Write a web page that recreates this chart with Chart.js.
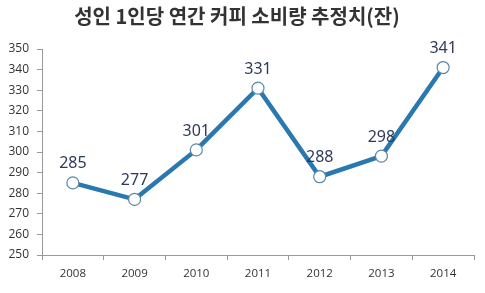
<!DOCTYPE html>
<html>
<head>
<meta charset="utf-8">
<script src="https://cdn.jsdelivr.net/npm/chart.js@4"></script>
<style>
  html, body { margin: 0; padding: 0; background: #fff; }
  #wrap { width: 485px; height: 293px; }
</style>
</head>
<body>
<div id="wrap"><canvas id="coffeeChart" width="485" height="293"></canvas></div>
<script>
// 성인 1인당 연간 커피 소비량 추정치 (잔)
const years = ["2008", "2009", "2010", "2011", "2012", "2013", "2014"];
const cups = [285, 277, 301, 331, 288, 298, 341];
const yTicks = [250, 260, 270, 280, 290, 300, 310, 320, 330, 340, 350];

// values above each point
const valueLabels = {
    id: "valueLabels",
    afterDatasetsDraw(chart) {
        const ctx = chart.ctx;
        const meta = chart.getDatasetMeta(0);
        ctx.save();
        ctx.font = "16px 'Noto Sans', 'DejaVu Sans', sans-serif";
        ctx.fillStyle = "#2e3a59";
        ctx.textAlign = "center";
        ctx.textBaseline = "bottom";
        meta.data.forEach((pt, i) => {
            ctx.fillText(String(cups[i]), pt.x, pt.y - 11);
        });
        ctx.restore();
    }
};

const ctx = document.getElementById("coffeeChart").getContext("2d");
new Chart(ctx, {
    type: "line",
    data: {
        labels: years,
        datasets: [
            {
                label: "커피 소비량",
                data: cups,
                borderColor: "#2a78b0",
                borderWidth: 4.5,
                pointRadius: 6,
                pointBackgroundColor: "#ffffff",
                pointBorderColor: "#5a88a8",
                pointBorderWidth: 1.2,
                tension: 0,
                clip: false,
            },
        ],
    },
    options: {
        responsive: false,
        animation: false,
        layout: { padding: { left: 0, right: 11, top: 0, bottom: 0 } },
        plugins: {
            legend: { display: false },
            tooltip: { enabled: false },
            title: {
                display: true,
                text: "성인 1인당 연간 커피 소비량 추정치(잔)",
                color: "#333333",
                font: { family: "'Noto Sans CJK KR', sans-serif", size: 20, weight: "bold" },
                padding: { top: 4, bottom: 21 },
            },
        },
        scales: {
            x: {
                offset: true,
                grid: { offset: true, drawOnChartArea: false, drawTicks: true, tickLength: 5, color: "#999" },
                border: { display: true, color: "#999" },
                ticks: { color: "#333", font: { family: "'Open Sans', sans-serif", size: 11.5 }, padding: 7 },
                afterFit(scale) { scale.height = 38; },
            },
            y: {
                min: 250,
                max: 350,
                afterBuildTicks(scale) { scale.ticks = yTicks.map((v) => ({ value: v })); },
                grid: { drawOnChartArea: false, drawTicks: true, tickLength: 5, color: "#999" },
                border: { display: true, color: "#999" },
                ticks: { color: "#333", font: { family: "'Open Sans', sans-serif", size: 12 }, padding: 8 },
                afterFit(scale) { scale.width = 42; },
            },
        },
    },
    plugins: [valueLabels],
});
</script>
</body>
</html>
